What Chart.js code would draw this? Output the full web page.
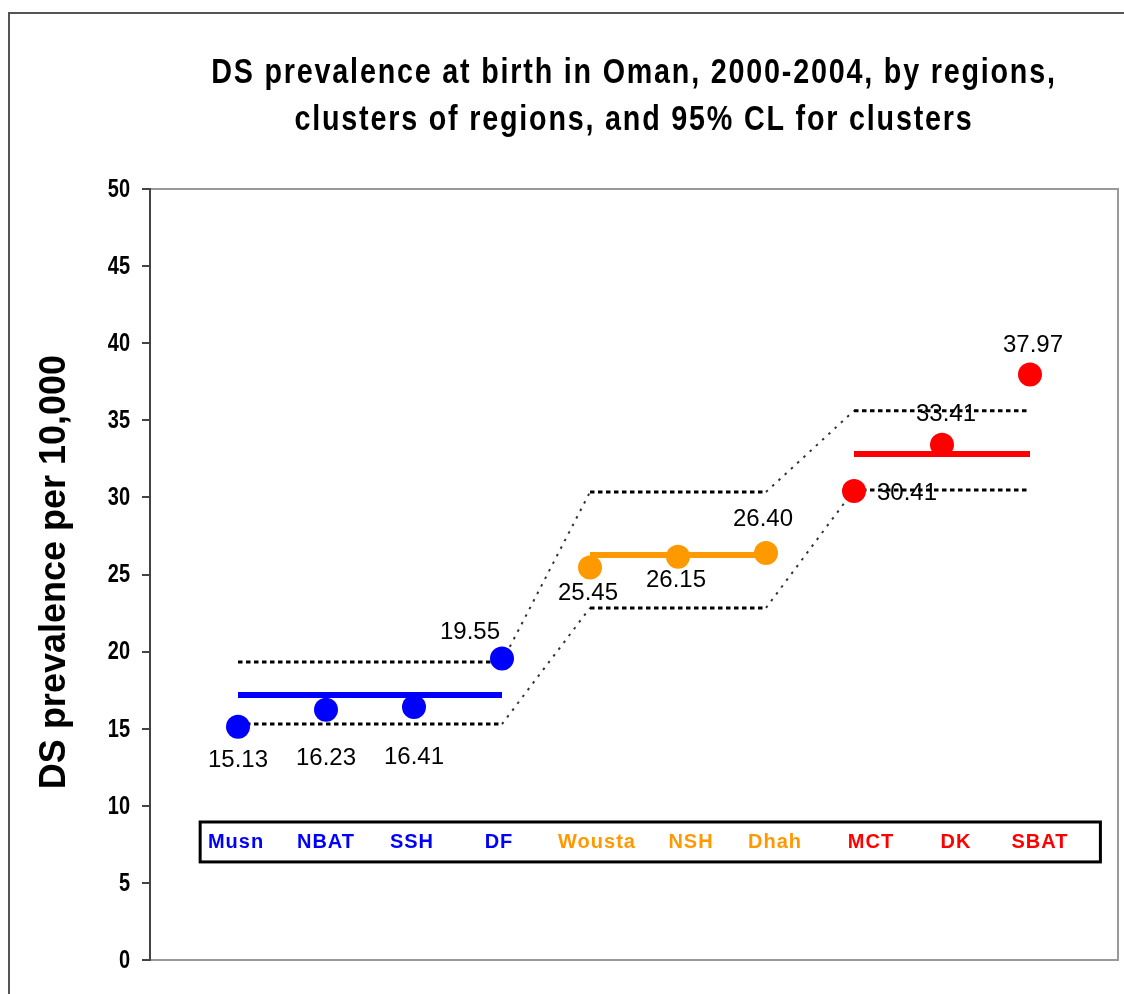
<!DOCTYPE html>
<html>
<head>
<meta charset="utf-8">
<title>DS prevalence at birth in Oman</title>
<script src="https://cdn.jsdelivr.net/npm/chart.js@4"></script>
<style>
  html, body { margin: 0; padding: 0; background: #fff; }
  #chart { display: block; }
</style>
</head>
<body>
<canvas id="chart" width="1124" height="994"></canvas>
<script>
// Data
const regions = ['Musn', 'NBAT', 'SSH', 'DF', 'Wousta', 'NSH', 'Dhah', 'MCT', 'DK', 'SBAT'];
const prevalence = [15.13, 16.23, 16.41, 19.55, 25.45, 26.15, 26.40, 30.41, 33.41, 37.97];
const clusterOf = [0, 0, 0, 0, 1, 1, 1, 2, 2, 2];
const clusterMean = [17.19, 26.26, 32.81];
const clusterUpper = [19.33, 30.35, 35.62];
const clusterLower = [15.30, 22.83, 30.48];
const yTicks = [0, 5, 10, 15, 20, 25, 30, 35, 40, 45, 50];

// styles
const clusterColors = ['#0000FF', '#FF9900', '#FF0000'];
const labelOffsets = [[0, 34], [0, 49], [0, 50], [-32, -26], [-2, 26], [-2, 24], [-3, -34], [53, 2], [4, -30], [3, -29]];
const catLabelDx = [-2, 0, -2, -3, 7, 13, 9, 17, 14, 10];
const SANS = '"Liberation Sans", Arial, sans-serif';
const NARROW_K = 0.8; // horizontal squeeze to mimic a narrow face

const xOf = i => i + 1;

const upperLine = regions.map((_, i) => ({ x: xOf(i), y: clusterUpper[clusterOf[i]] }));
const lowerLine = regions.map((_, i) => ({ x: xOf(i), y: clusterLower[clusterOf[i]] }));

const envSegment = {
  borderDash: ctx => ctx.p0.parsed.y === ctx.p1.parsed.y ? [4.5, 3.5] : [2.5, 6],
  borderWidth: ctx => ctx.p0.parsed.y === ctx.p1.parsed.y ? 3 : 2,
  borderColor: ctx => ctx.p0.parsed.y === ctx.p1.parsed.y ? '#000' : '#333'
};

const meanSets = clusterMean.map((m, c) => {
  const idx = clusterOf.map((k, i) => k === c ? i : -1).filter(i => i >= 0);
  return {
    label: 'mean ' + c,
    data: [{ x: xOf(idx[0]), y: m }, { x: xOf(idx[idx.length - 1]), y: m }],
    borderColor: clusterColors[c],
    borderWidth: 6,
    borderCapStyle: 'butt',
    pointRadius: 0,
    order: 1
  };
});

function narrowText(ctx, text, x, y, k) {
  ctx.save();
  ctx.translate(x, y);
  ctx.scale(k, 1);
  ctx.fillText(text, 0, 0);
  ctx.restore();
}

// frame, titles, tick labels, point labels and the region box
const extras = {
  id: 'extras',
  beforeDraw(chart) {
    const ctx = chart.ctx;
    ctx.save();
    ctx.fillStyle = '#fff';
    ctx.fillRect(0, 0, chart.width, chart.height);
    ctx.strokeStyle = '#555';
    ctx.lineWidth = 2;
    ctx.beginPath();
    ctx.moveTo(9, chart.height);
    ctx.lineTo(9, 13);
    ctx.lineTo(chart.width, 13);
    ctx.stroke();
    const a = chart.chartArea;
    ctx.strokeStyle = '#999';
    ctx.beginPath();
    ctx.moveTo(a.left, a.top);
    ctx.lineTo(a.right, a.top);
    ctx.lineTo(a.right, a.bottom);
    ctx.lineTo(a.left, a.bottom);
    ctx.stroke();
    ctx.restore();
  },
  afterDraw(chart) {
    const ctx = chart.ctx;
    const a = chart.chartArea;
    const xs = chart.scales.x, ys = chart.scales.y;
    ctx.save();
    ctx.fillStyle = '#000';
    // title
    ctx.textAlign = 'center';
    ctx.textBaseline = 'alphabetic';
    ctx.font = 'bold 35px ' + SANS;
    ctx.letterSpacing = '2.2px';
    const cx = (a.left + a.right) / 2;
    narrowText(ctx, 'DS prevalence at birth in Oman, 2000-2004, by regions,', cx, 83, 0.82);
    narrowText(ctx, 'clusters of regions, and 95% CL for clusters', cx, 130, 0.82);
    ctx.letterSpacing = '0px';
    // y tick labels
    ctx.textAlign = 'right';
    ctx.textBaseline = 'middle';
    ctx.font = 'bold 25px ' + SANS;
    yTicks.forEach(v => narrowText(ctx, String(v), 130, ys.getPixelForValue(v) + 1, NARROW_K));
    // y axis title
    ctx.textAlign = 'center';
    ctx.save();
    ctx.translate(55, 572);
    ctx.rotate(-Math.PI / 2);
    ctx.font = 'bold 36px ' + SANS;
    ctx.fillText('DS prevalence per 10,000', 0, 0);
    ctx.restore();
    // value labels
    ctx.font = '24px ' + SANS;
    prevalence.forEach((v, i) => {
      const px = xs.getPixelForValue(xOf(i)) + labelOffsets[i][0];
      const py = ys.getPixelForValue(v) + labelOffsets[i][1];
      ctx.fillText(v.toFixed(2), px, py);
    });
    // region box
    const bx0 = xs.getPixelForValue(0.57), bx1 = xs.getPixelForValue(10.8);
    const by0 = ys.getPixelForValue(8.95), by1 = ys.getPixelForValue(6.36);
    ctx.strokeStyle = '#000';
    ctx.lineWidth = 3;
    ctx.strokeRect(bx0, by0, bx1 - bx0, by1 - by0);
    ctx.font = 'bold 20px ' + SANS;
    ctx.letterSpacing = '1px';
    const ly = (by0 + by1) / 2 + 1;
    regions.forEach((r, i) => {
      ctx.fillStyle = clusterColors[clusterOf[i]];
      ctx.fillText(r, xs.getPixelForValue(xOf(i)) + catLabelDx[i], ly);
    });
    ctx.restore();
  }
};

new Chart(document.getElementById('chart'), {
  type: 'line',
  data: {
    datasets: [
      {
        label: 'Regions',
        data: prevalence.map((v, i) => ({ x: xOf(i), y: v })),
        showLine: false,
        pointRadius: 12,
        pointHoverRadius: 12,
        pointBorderWidth: 0,
        pointBackgroundColor: clusterOf.map(c => clusterColors[c]),
        pointBorderColor: clusterOf.map(c => clusterColors[c]),
        order: 0
      },
      ...meanSets,
      {
        label: 'Upper 95% CL',
        data: upperLine,
        borderColor: '#000',
        borderWidth: 3,
        pointRadius: 0,
        segment: envSegment,
        order: 2
      },
      {
        label: 'Lower 95% CL',
        data: lowerLine,
        borderColor: '#000',
        borderWidth: 3,
        pointRadius: 0,
        segment: envSegment,
        order: 2
      }
    ]
  },
  options: {
    responsive: false,
    devicePixelRatio: 1,
    animation: false,
    layout: { autoPadding: false, padding: { top: 189, right: 6, bottom: 34, left: 0 } },
    plugins: {
      legend: { display: false },
      title: { display: false },
      tooltip: { enabled: false }
    },
    scales: {
      x: { type: 'linear', min: 0, max: 11, display: false },
      y: {
        min: 0,
        max: 50,
        afterBuildTicks: s => { s.ticks = yTicks.map(v => ({ value: v })); },
        afterFit: s => { s.width = 150; },
        ticks: { display: false },
        grid: { drawOnChartArea: false, drawTicks: true, tickLength: 8, color: '#444', lineWidth: 2 },
        border: { color: '#444', width: 2 }
      }
    }
  },
  plugins: [extras]
});
</script>
</body>
</html>
